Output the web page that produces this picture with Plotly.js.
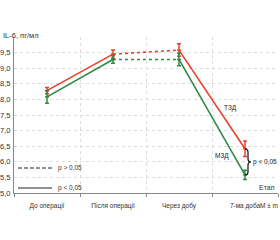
<!DOCTYPE html>
<html>
<head>
<meta charset="utf-8">
<script src="https://cdn.plot.ly/plotly-3.0.1.min.js"></script>
<style>html,body{margin:0;padding:0;background:#fff;}#chart{width:280px;height:240px;}</style>
</head>
<body>
<div id="chart"></div>
<script>
const categories = ['До операції', 'Після операції', 'Через добу', '7-ма доба'];
const tzdValues = [8.28, 9.45, 9.58, 6.42];
const tzdErrors = [0.10, 0.13, 0.20, 0.25];
const mzdValues = [8.08, 9.28, 9.28, 5.58];
const mzdErrors = [0.20, 0.12, 0.20, 0.15];
const segmentDash = ['solid', '3px,3px', 'solid'];
const yTickVals = [5, 5.5, 6, 6.5, 7, 7.5, 8, 8.5, 9, 9.5, 10];
const yTickText = ['5,0', '5,5', '6,0', '6,5', '7,0', '7,5', '8,0', '8,5', '9,0', '9,5', ''];

const RED = '#e8412c';
const GREEN = '#2f8a45';
const FONT = "'Liberation Sans', Arial, sans-serif";

const traces = [];
function addSeries(values, errors, color) {
  for (let i = 0; i < values.length - 1; i++) {
    traces.push({
      x: [categories[i], categories[i + 1]],
      y: [values[i], values[i + 1]],
      mode: 'lines',
      line: {color: color, width: 1.6, dash: segmentDash[i]},
      hoverinfo: 'skip', showlegend: false
    });
  }
  traces.push({
    x: categories, y: values, mode: 'markers',
    marker: {color: color, size: 3, symbol: 'line-ew-open', line: {color: color, width: 1.5}},
    error_y: {type: 'data', array: errors, visible: true, color: color, thickness: 1.5, width: 2},
    showlegend: false
  });
}
addSeries(tzdValues, tzdErrors, RED);
addSeries(mzdValues, mzdErrors, GREEN);

const px = x => (x - 14) / 264;
const py = y => (193 - y) / 156;

const layout = {
  width: 280, height: 240,
  margin: {l: 14, r: 2, t: 37, b: 47},
  paper_bgcolor: '#fff', plot_bgcolor: '#fff',
  showlegend: false,
  font: {family: FONT, size: 7, color: '#333'},
  xaxis: {
    type: 'category', categoryarray: categories, range: [-0.5, 3.5],
    tickson: 'boundaries', ticks: 'outside', ticklen: 3, tickcolor: '#888',
    ticklabelstandoff: 6,
    showgrid: true, gridcolor: '#dcdcdc', griddash: 'dot', gridwidth: 1,
    showline: true, linecolor: '#888', linewidth: 1,
    tickfont: {family: FONT, size: 6.5, color: '#333'},
    zeroline: false, fixedrange: true
  },
  yaxis: {
    range: [5, 10], tickvals: yTickVals, ticktext: yTickText,
    showgrid: true, gridcolor: '#dcdcdc', griddash: 'dot', gridwidth: 1,
    showline: true, linecolor: '#888', linewidth: 1,
    ticks: '', ticklabelstandoff: 1,
    tickfont: {family: FONT, size: 7.5, color: '#333'},
    zeroline: false, fixedrange: true
  },
  shapes: [
    {type: 'line', xref: 'paper', yref: 'paper', x0: px(18), x1: px(52), y0: py(168), y1: py(168),
     line: {color: '#222', width: 1.2, dash: '4px,2px'}},
    {type: 'line', xref: 'paper', yref: 'paper', x0: px(18), x1: px(52), y0: py(188), y1: py(188),
     line: {color: '#222', width: 1.2}},
    {type: 'path', xref: 'paper', yref: 'paper',
     path: `M ${px(245)},${py(149)} Q ${px(248)},${py(149)} ${px(248)},${py(152)} L ${px(248)},${py(159)} Q ${px(248)},${py(162)} ${px(251)},${py(162)} Q ${px(248)},${py(162)} ${px(248)},${py(165)} L ${px(248)},${py(172)} Q ${px(248)},${py(175)} ${px(245)},${py(175)}`,
     line: {color: '#111', width: 1.2}}
  ],
  annotations: [
    {text: 'IL-6, пг/мл', xref: 'paper', yref: 'paper', x: px(1), y: py(35), xanchor: 'left', yanchor: 'middle', showarrow: false, font: {family: FONT, size: 7.5, color: '#333'}},
    {text: 'p > 0,05', xref: 'paper', yref: 'paper', x: px(56), y: py(168), xanchor: 'left', yanchor: 'middle', showarrow: false, font: {family: FONT, size: 6.5, color: '#333'}},
    {text: 'p < 0,05', xref: 'paper', yref: 'paper', x: px(56), y: py(188), xanchor: 'left', yanchor: 'middle', showarrow: false, font: {family: FONT, size: 6.5, color: '#333'}},
    {text: 'ТЗД', xref: 'paper', yref: 'paper', x: px(230), y: py(108), xanchor: 'center', yanchor: 'middle', showarrow: false, font: {family: FONT, size: 6.5, color: '#222'}},
    {text: 'МЗД', xref: 'paper', yref: 'paper', x: px(222), y: py(156), xanchor: 'center', yanchor: 'middle', showarrow: false, font: {family: FONT, size: 6.5, color: '#222'}},
    {text: 'p < 0,05', xref: 'paper', yref: 'paper', x: px(251), y: py(162), xanchor: 'left', yanchor: 'middle', showarrow: false, font: {family: FONT, size: 6.5, color: '#222'}},
    {text: 'Етап', xref: 'paper', yref: 'paper', x: px(277), y: py(187), xanchor: 'right', yanchor: 'middle', showarrow: false, font: {family: FONT, size: 7, color: '#333'}},
    {text: 'M ± m', xref: 'paper', yref: 'paper', x: px(280), y: py(205), xanchor: 'right', yanchor: 'middle', showarrow: false, font: {family: FONT, size: 6.5, color: '#333'}}
  ]
};

Plotly.newPlot('chart', traces, layout, {displayModeBar: false, staticPlot: true});
</script>
</body>
</html>
